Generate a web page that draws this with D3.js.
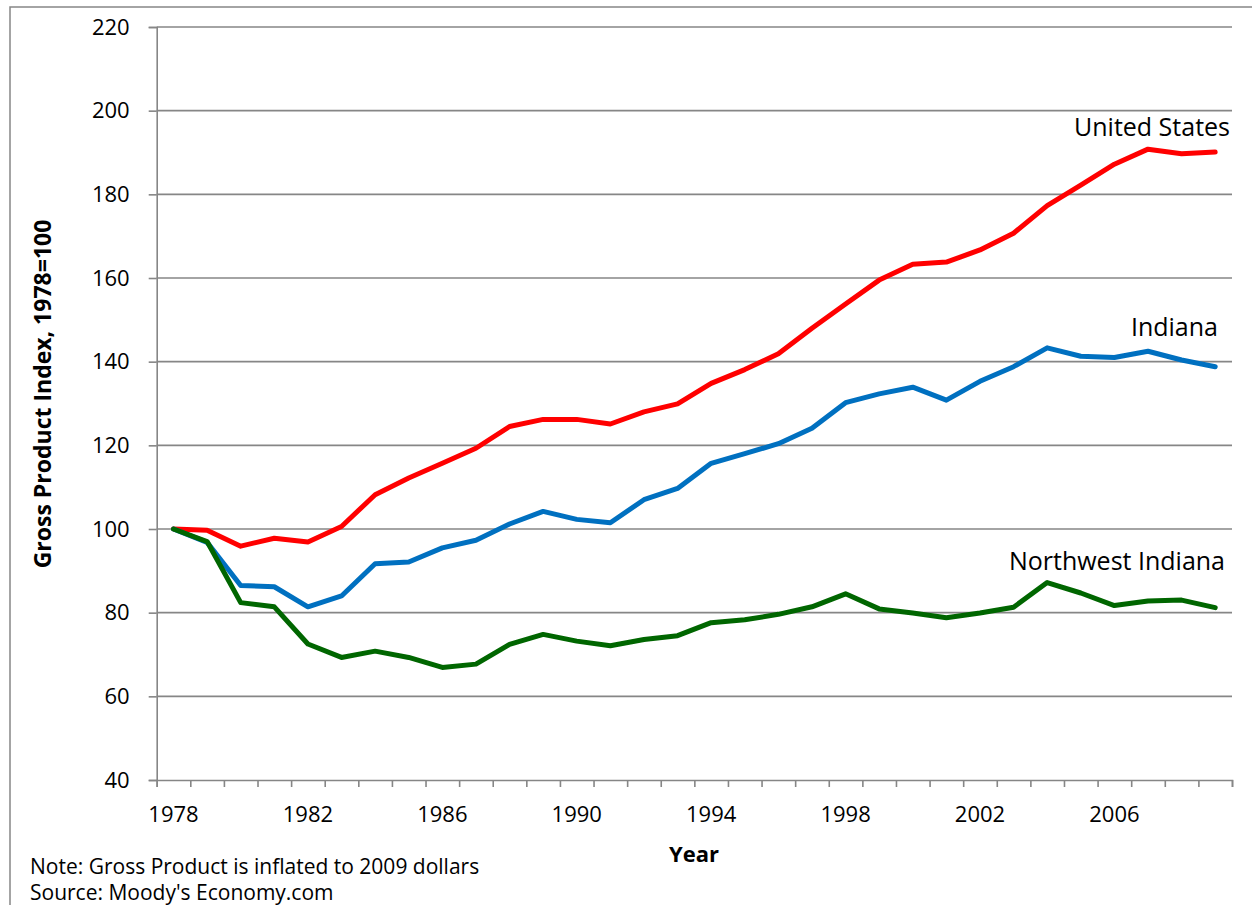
<!DOCTYPE html>
<html>
<head>
<meta charset="utf-8">
<script src="https://cdn.jsdelivr.net/npm/d3@7"></script>
<style>
  html, body { margin: 0; padding: 0; background: #fff; }
  svg text { font-family: "Open Sans", sans-serif; fill: #000; }
</style>
</head>
<body>
<svg id="chart" width="1252" height="905"></svg>
<script>
// --- Data ---
const years = d3.range(1978, 2010);
const yTicks = [40, 60, 80, 100, 120, 140, 160, 180, 200, 220];
const xLabelYears = [1978, 1982, 1986, 1990, 1994, 1998, 2002, 2006];

const unitedStates = [100, 99.7, 95.9, 97.8, 96.9, 100.6, 108.2, 112.2, 115.7, 119.3,
  124.5, 126.2, 126.2, 125.1, 128.0, 129.9, 134.8, 138.1, 141.9, 148.0,
  153.8, 159.5, 163.3, 163.8, 166.7, 170.7, 177.3, 182.2, 187.2, 190.8,
  189.7, 190.1];
const indiana = [100, 96.8, 86.5, 86.2, 81.4, 84.0, 91.7, 92.1, 95.5, 97.3,
  101.2, 104.2, 102.3, 101.5, 107.0, 109.7, 115.7, 118.0, 120.4, 124.1,
  130.2, 132.3, 133.9, 130.8, 135.3, 138.8, 143.3, 141.3, 141.0, 142.5,
  140.4, 138.8];
const nwIndiana = [100, 97.0, 82.4, 81.4, 72.5, 69.3, 70.8, 69.3, 66.9, 67.7,
  72.4, 74.8, 73.2, 72.1, 73.6, 74.5, 77.6, 78.3, 79.6, 81.4,
  84.5, 80.9, 79.9, 78.8, 79.9, 81.3, 87.2, 84.7, 81.7, 82.8,
  83.0, 81.2];

const series = [
  { name: "United States", values: unitedStates, color: "#ff0000" },
  { name: "Indiana", values: indiana, color: "#0070c0" },
  { name: "Northwest Indiana", values: nwIndiana, color: "#006600" }
];

const svg = d3.select("#chart");
const grid = "#868686";
const plotLeft = 156.7, plotRight = 1232, plotTop = 27, plotBottom = 780;

// outer chart border
svg.append("rect")
  .attr("x", 10).attr("y", 7)
  .attr("width", 1300).attr("height", 1000)
  .attr("fill", "none").attr("stroke", grid).attr("stroke-width", 1.5);

const x = d3.scaleBand().domain(years).range([plotLeft, plotRight]).padding(0);
const xEdge = d3.scaleLinear().domain([0, years.length]).range([plotLeft, plotRight]);
const y = d3.scaleLinear().domain([40, 220]).range([plotBottom, plotTop]);
const cx = d => x(d) + x.bandwidth() / 2;

// gridlines
svg.append("g")
  .selectAll("line")
  .data(yTicks.slice(1))
  .join("line")
  .attr("x1", plotLeft).attr("x2", plotRight)
  .attr("y1", d => y(d)).attr("y2", d => y(d))
  .attr("stroke", grid).attr("stroke-width", 1.6);

// y axis
const yAxisG = svg.append("g")
  .attr("transform", `translate(${plotLeft},0)`)
  .call(d3.axisLeft(y).tickValues(yTicks).tickSize(8).tickPadding(19));
yAxisG.select(".domain").attr("stroke", grid).attr("stroke-width", 1.6);
yAxisG.selectAll(".tick line").attr("stroke", grid).attr("stroke-width", 1.6);
yAxisG.selectAll(".tick text")
  .attr("font-size", 22)
  .attr("font-family", "'Open Sans', sans-serif")
  .attr("fill", "#000");

// x axis: ticks between categories
const xAxisG = svg.append("g")
  .attr("transform", `translate(0,${plotBottom})`)
  .call(d3.axisBottom(xEdge).tickValues(d3.range(0, years.length + 1)).tickSize(7).tickFormat(""));
xAxisG.select(".domain").attr("stroke", grid).attr("stroke-width", 1.6);
xAxisG.selectAll(".tick line").attr("stroke", grid).attr("stroke-width", 1.6);

svg.append("g")
  .selectAll("text")
  .data(xLabelYears)
  .join("text")
  .attr("x", d => cx(d))
  .attr("y", 822)
  .attr("text-anchor", "middle")
  .attr("font-size", 22)
  .text(d => d);

// lines
const line = d3.line()
  .x((d, i) => cx(years[i]))
  .y(d => y(d));

svg.append("g")
  .selectAll("path")
  .data(series)
  .join("path")
  .attr("d", d => line(d.values))
  .attr("fill", "none")
  .attr("stroke", d => d.color)
  .attr("stroke-width", 5)
  .attr("stroke-linejoin", "round")
  .attr("stroke-linecap", "round");

// series labels
const labels = [
  { text: "United States", x: 1230, y: 136 },
  { text: "Indiana", x: 1218, y: 336 },
  { text: "Northwest Indiana", x: 1225, y: 570 }
];
svg.append("g")
  .selectAll("text")
  .data(labels)
  .join("text")
  .attr("x", d => d.x).attr("y", d => d.y)
  .attr("text-anchor", "end")
  .attr("font-size", 25)
  .text(d => d.text);

// axis titles
svg.append("text")
  .attr("transform", "translate(51,394) rotate(-90)")
  .attr("text-anchor", "middle")
  .attr("font-size", 23)
  .attr("font-weight", "bold")
  .text("Gross Product Index, 1978=100");

svg.append("text")
  .attr("x", 694).attr("y", 862)
  .attr("text-anchor", "middle")
  .attr("font-size", 22)
  .attr("font-weight", "bold")
  .text("Year");

// notes
svg.append("text")
  .attr("x", 30).attr("y", 874)
  .attr("font-size", 21)
  .text("Note: Gross Product is inflated to 2009 dollars");
svg.append("text")
  .attr("x", 30).attr("y", 900)
  .attr("font-size", 21)
  .text("Source: Moody's Economy.com");
</script>
</body>
</html>
